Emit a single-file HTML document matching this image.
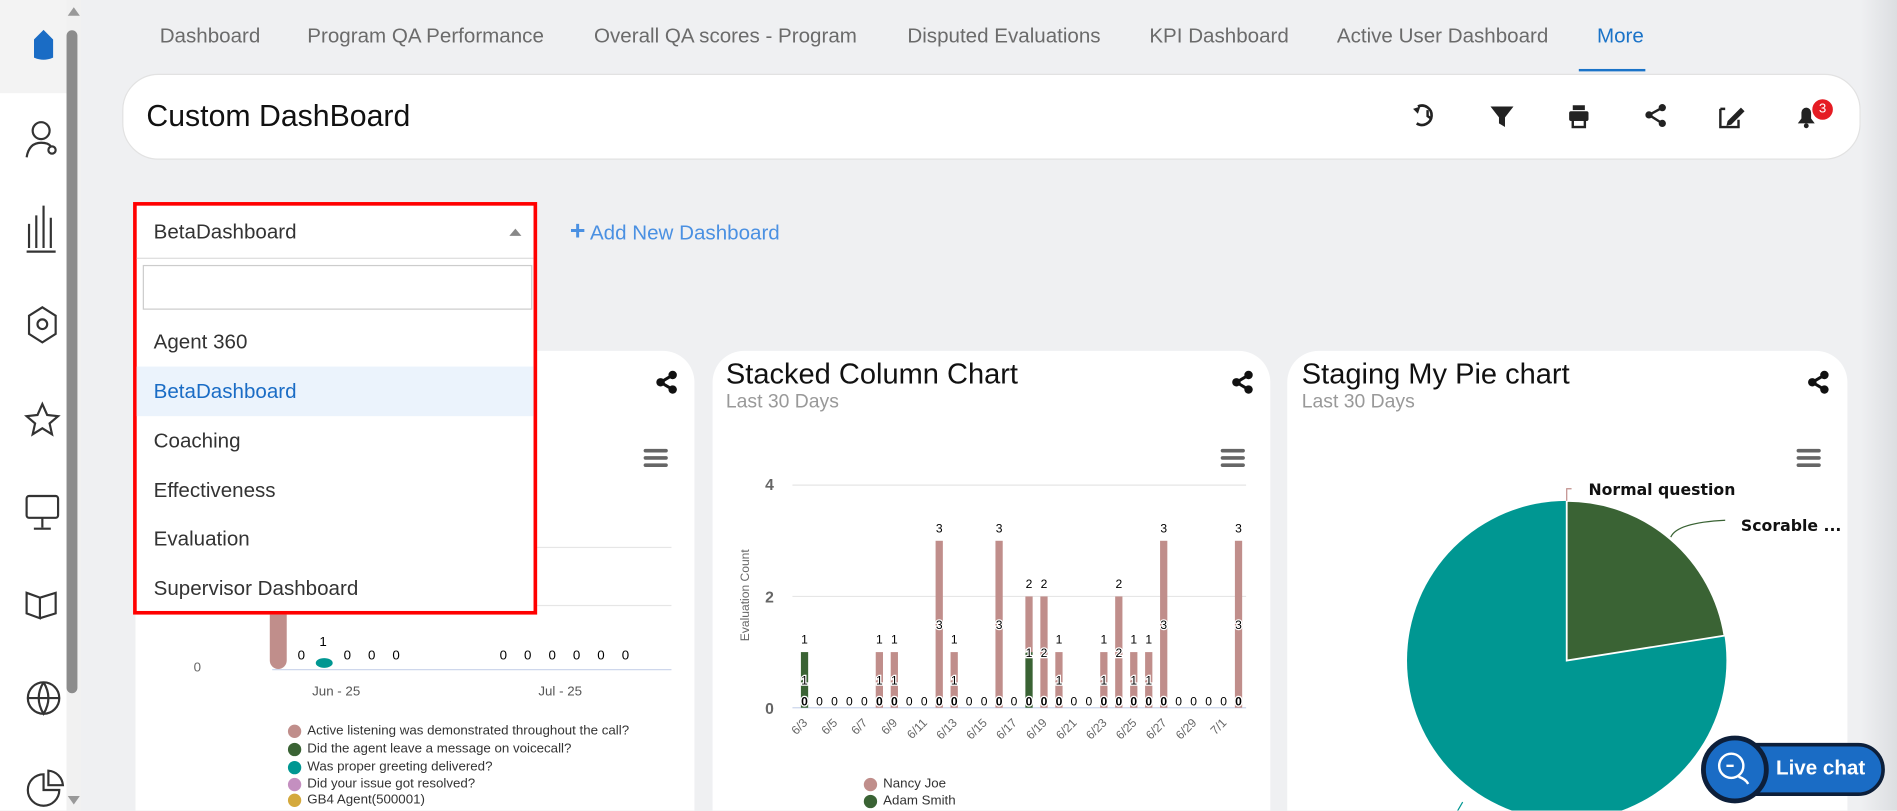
<!DOCTYPE html>
<html><head><meta charset="utf-8"><style>
html,body{margin:0;padding:0;overflow:hidden;background:#eff0f2;width:1897px;height:810px}
#w{position:absolute;left:0;top:0;width:1568px;height:670px;transform:scale(1.20982);transform-origin:0 0;font-family:"Liberation Sans",sans-serif;background:#eff0f2;overflow:hidden}
.a{position:absolute;white-space:nowrap}
.tab{position:absolute;top:20px;font-size:17px;color:#6b6b6b}
.card{position:absolute;background:#fff;border-radius:26px 26px 0 0}
.ham{position:absolute;width:20px;height:3px;background:#666;box-shadow:0 6px 0 #666,0 12px 0 #666;border-radius:2px}
.item{position:absolute;left:3px;width:328px;height:41px;font-size:17px;color:#333;line-height:41px;padding-left:14px;box-sizing:border-box}
.lg{position:absolute;font-size:11px;color:#333}
.lg i{position:absolute;left:-16px;top:1px;width:11px;height:11px;border-radius:50%}
</style></head><body><div id="w">
<div class="a" style="left:0;top:0;width:55px;height:670px;background:#fff"></div>
<div class="a" style="left:0;top:0;width:55px;height:77px;background:#f3f3f3"></div>
<div class="a" style="left:55px;top:0;width:12px;height:670px;background:#f1f1f1"></div>
<div class="a" style="left:55px;top:25px;width:9px;height:548px;background:#8c8c8c;border-radius:5px"></div>
<div class="a" style="left:56px;top:6px;width:0;height:0;border-left:5px solid transparent;border-right:5px solid transparent;border-bottom:7px solid #999"></div>
<div class="a" style="left:56px;top:658px;width:0;height:0;border-left:5px solid transparent;border-right:5px solid transparent;border-top:7px solid #999"></div>
<svg class="a" style="left:0;top:0" width="55" height="670" fill="none" stroke="#333" stroke-width="1.8">
<path d="M29 33 L36 26 L43 33 L43 47 Q36 50 29 47 Z" fill="#1a6cc5" stroke="#1a6cc5"/>
<circle cx="34" cy="108" r="7"/><path d="M22 130 Q24 118 34 118 Q40 118 42 121"/><circle cx="43" cy="124" r="3"/>
<path d="M24 205 V185 M30 205 V178 M36 205 V170 M42 205 V180 M22 208 H46"/>
<path d="M35 254 L46 261 V276 L35 283 L24 276 V261 Z"/><circle cx="35" cy="268" r="4"/>
<path d="M35 334 L39 343 L48 344 L41 350 L43 359 L35 354 L27 359 L29 350 L22 344 L31 343 Z"/>
<rect x="22" y="410" width="26" height="18" rx="2"/><path d="M35 428 V436 M28 437 H42"/>
<path d="M22 490 L33 494 V511 L22 507 Z M33 494 L46 490 V507 L33 511"/>
<circle cx="36" cy="577" r="13"/><path d="M23 577 H49 M36 564 Q28 577 36 590 Q44 577 36 564"/>
<path d="M36 640 A13 13 0 1 0 49 653 L36 653 Z"/><path d="M40 637 A13 13 0 0 1 52 649 L40 649 Z"/>
</svg>
<div class="tab" style="left:132px">Dashboard</div>
<div class="tab" style="left:254px">Program QA Performance</div>
<div class="tab" style="left:491px">Overall QA scores - Program</div>
<div class="tab" style="left:750px">Disputed Evaluations</div>
<div class="tab" style="left:950px">KPI Dashboard</div>
<div class="tab" style="left:1105px">Active User Dashboard</div>
<div class="tab" style="left:1320px;color:#1a73c8">More</div>
<div class="a" style="left:1305px;top:57px;width:55px;height:2px;background:#1a73c8"></div>
<div class="a" style="left:101px;top:61px;width:1435px;height:69px;border-radius:30px;border:1px solid #e2e2e2;background:#fff"></div>
<div class="a" style="left:121px;top:82px;font-size:25px;color:#111">Custom DashBoard</div>
<svg class="a" style="left:1160px;top:80px" width="360" height="32" fill="#222" stroke="#222">
<path d="M12 8 A8 8 0 1 1 11 22" fill="none" stroke-width="2.2"/><path d="M8 10 L12 14 L14 8 Z" stroke="none"/><path d="M20 11 V16 L23 18" fill="none" stroke-width="2"/>
<path d="M72 8 H91 L84 17 V25 L79 22 V17 Z" stroke="none"/>
<rect x="137" y="12" width="16" height="8" rx="1.5" stroke="none"/><rect x="140" y="7" width="10" height="4" stroke="none"/><rect x="140" y="19" width="10" height="6" fill="#fff" stroke-width="2"/>
<circle cx="214" cy="9" r="3" stroke="none"/><circle cx="203" cy="15" r="3" stroke="none"/><circle cx="214" cy="22" r="3" stroke="none"/><path d="M214 9 L203 15 L214 22" fill="none" stroke-width="2"/>
<path d="M262 10 H266 M262 10 V25 H277 V19" fill="none" stroke-width="2"/><path d="M268 20 L279 9 L282 12 L271 23 L267 24 Z" stroke="none"/>
<path d="M326 22 H340 L337 18 V13 A4 4 0 0 0 329 13 V18 Z" stroke="none"/><circle cx="333" cy="24" r="2" stroke="none"/>
</svg>
<div class="a" style="left:1498px;top:82px;width:17px;height:17px;border-radius:50%;background:#e51c23;color:#fff;font-size:11px;text-align:center;line-height:17px">3</div>
<div class="a" style="left:471px;top:182px;font-size:17px;color:#4a90e2"><b style="font-size:22px;line-height:17px">+</b> Add New Dashboard</div>
<div class="card" style="left:112px;top:290px;width:462px;height:380px"></div>
<svg class="a" style="left:542px;top:306px" width="20" height="20" fill="#111"><circle cx="14" cy="4" r="3.5"/><circle cx="4" cy="10" r="3.5"/><circle cx="14" cy="16" r="3.5"/><path d="M14 4 L4 10 L14 16" stroke="#111" stroke-width="2.5" fill="none"/></svg>
<div class="ham" style="left:532px;top:371px"></div>
<div class="a" style="left:178px;top:452px;width:377px;height:1px;background:#e6e6e6"></div>
<div class="a" style="left:178px;top:500px;width:377px;height:1px;background:#e6e6e6"></div>
<div class="a" style="left:225px;top:553px;width:330px;height:1px;background:#ccd6eb"></div>
<div class="a" style="left:160px;top:546px;font-size:11px;color:#666">0</div>
<div class="a" style="left:223px;top:505px;width:14px;height:48px;background:#c08e8b;border-radius:0 0 7px 7px"></div>
<div class="a" style="left:261px;top:544px;width:14px;height:8px;background:#009792;border-radius:50%"></div>
<div class="a" style="left:264px;top:525px;font-size:11px">1</div>
<div class="a" style="left:246px;top:536px;font-size:11px">0</div>
<div class="a" style="left:284px;top:536px;font-size:11px;word-spacing:11px">0 0 0</div>
<div class="a" style="left:413px;top:536px;font-size:11px;word-spacing:11px">0 0 0 0 0 0</div>
<div class="a" style="left:258px;top:566px;font-size:11px;color:#555">Jun - 25</div>
<div class="a" style="left:445px;top:566px;font-size:11px;color:#555">Jul - 25</div>
<div class="lg" style="left:254px;top:598px"><i style="background:#c08e8b"></i>Active listening was demonstrated throughout the call?</div>
<div class="lg" style="left:254px;top:613px"><i style="background:#3a6334"></i>Did the agent leave a message on voicecall?</div>
<div class="lg" style="left:254px;top:628px"><i style="background:#009792"></i>Was proper greeting delivered?</div>
<div class="lg" style="left:254px;top:642px"><i style="background:#c48fc0"></i>Did your issue got resolved?</div>
<div class="lg" style="left:254px;top:655px"><i style="background:#d4a93d"></i>GB4 Agent(500001)</div>
<div class="a" style="left:110px;top:167px;width:334px;height:341px;background:#fff;border:3px solid #f00;box-sizing:border-box"></div>
<div class="a" style="left:127px;top:182px;font-size:17px;color:#333">BetaDashboard</div>
<div class="a" style="left:421px;top:189px;border-left:5px solid transparent;border-right:5px solid transparent;border-bottom:6px solid #888"></div>
<div class="a" style="left:113px;top:213px;width:328px;height:1px;background:#ddd"></div>
<div class="a" style="left:118px;top:219px;width:322px;height:37px;border:1px solid #ccc;box-sizing:border-box"></div>
<div class="item" style="top:262px;left:113px">Agent 360</div>
<div class="item" style="top:303px;left:113px;background:#ebf3fc;color:#1a6cc5">BetaDashboard</div>
<div class="item" style="top:344px;left:113px">Coaching</div>
<div class="item" style="top:385px;left:113px">Effectiveness</div>
<div class="item" style="top:425px;left:113px">Evaluation</div>
<div class="item" style="top:466px;left:113px">Supervisor Dashboard</div>
<div class="card" style="left:589px;top:290px;width:461px;height:380px"></div>
<div class="a" style="left:600px;top:296px;font-size:24px;color:#111">Stacked Column Chart</div>
<div class="a" style="left:600px;top:324px;font-size:16px;color:#999">Last 30 Days</div>
<svg class="a" style="left:1018px;top:306px" width="20" height="20" fill="#111"><circle cx="14" cy="4" r="3.5"/><circle cx="4" cy="10" r="3.5"/><circle cx="14" cy="16" r="3.5"/><path d="M14 4 L4 10 L14 16" stroke="#111" stroke-width="2.5" fill="none"/></svg>
<div class="ham" style="left:1009px;top:371px"></div>
<svg class="a" style="left:589px;top:380px" width="461" height="290" font-family="Liberation Sans, sans-serif">
<line x1="66" y1="21" x2="441" y2="21" stroke="#e6e6e6"/>
<line x1="66" y1="113" x2="441" y2="113" stroke="#e6e6e6"/>
<line x1="66" y1="205" x2="441" y2="205" stroke="#ccd6eb"/>
<text x="47" y="25" font-size="13" font-weight="bold" fill="#666" text-anchor="middle">4</text>
<text x="47" y="118" font-size="13" font-weight="bold" fill="#666" text-anchor="middle">2</text>
<text x="47" y="210" font-size="13" font-weight="bold" fill="#666" text-anchor="middle">0</text>
<text transform="translate(30,112) rotate(-90)" font-size="10" fill="#666" text-anchor="middle">Evaluation Count</text>
<g id="bars"></g>
</svg>
<div class="lg" style="left:730px;top:642px"><i style="background:#c08e8b"></i>Nancy Joe</div>
<div class="lg" style="left:730px;top:656px"><i style="background:#3a6334"></i>Adam Smith</div>
<div class="card" style="left:1064px;top:290px;width:463px;height:380px"></div>
<div class="a" style="left:1076px;top:296px;font-size:24px;color:#111">Staging My Pie chart</div>
<div class="a" style="left:1076px;top:324px;font-size:16px;color:#999">Last 30 Days</div>
<svg class="a" style="left:1494px;top:306px" width="20" height="20" fill="#111"><circle cx="14" cy="4" r="3.5"/><circle cx="4" cy="10" r="3.5"/><circle cx="14" cy="16" r="3.5"/><path d="M14 4 L4 10 L14 16" stroke="#111" stroke-width="2.5" fill="none"/></svg>
<div class="ham" style="left:1485px;top:371px"></div>
<svg class="a" style="left:1064px;top:380px" width="463" height="290" font-family="DejaVu Sans, sans-serif">
<circle cx="231" cy="166" r="132" fill="#009792"/>
<path d="M231 166 L231 34 A132 132 0 0 1 361.4 145.4 Z" fill="#3a6334" stroke="#fff" stroke-width="1.5"/>
<path d="M231 34 V24 H235" stroke="#c08e8b" fill="none"/>
<path d="M317 64 Q322 52 362 50" stroke="#3a6334" fill="none"/>
<path d="M145 283 L138 295" stroke="#009792" fill="none"/>
<text x="249" y="29" font-size="13" font-weight="bold" fill="#111">Normal question</text>
<text x="375" y="59" font-size="13" font-weight="bold" fill="#111">Scorable ...</text>
</svg>
<div class="a" style="left:1538px;top:0;width:30px;height:670px;background:linear-gradient(90deg,#eff0f2,#dcdee1)"></div>
<div class="a" style="left:1425px;top:614px;width:133px;height:44px;background:#1a6cc5;border:3px solid #0d1f3a;border-radius:24px;box-sizing:border-box"></div>
<div class="a" style="left:1406px;top:608px;width:56px;height:56px;background:#1a6cc5;border:4px solid #0d1f3a;border-radius:50%;box-sizing:border-box"></div>
<svg class="a" style="left:1417px;top:620px" width="34" height="32" fill="none" stroke="#fff" stroke-width="2"><circle cx="14" cy="13" r="10"/><path d="M10 13 H16"/><path d="M20 22 Q26 24 28 28"/></svg>
<div class="a" style="left:1468px;top:625px;font-size:17px;font-weight:bold;color:#fff">Live chat</div>
</div>
<script>
var g=document.getElementById('bars'),h='';
var pink={5:1,6:1,9:3,10:1,13:3,15:1,16:2,17:1,20:1,21:2,22:1,23:1,24:3,29:3},green={0:1,15:1};
var dates=['6/3','6/5','6/7','6/9','6/11','6/13','6/15','6/17','6/19','6/21','6/23','6/25','6/27','6/29','7/1'];
for(var i=0;i<30;i++){var x=76+i*12.37,p=pink[i]||0,q=green[i]||0,y=205;
if(q){h+='<rect x="'+(x-3)+'" y="'+(y-q*46)+'" width="6" height="'+(q*46)+'" fill="#3a6334"/>';}
if(p){h+='<rect x="'+(x-3)+'" y="'+(y-q*46-p*46)+'" width="6" height="'+(p*46)+'" fill="#c08e8b"/>';}
var t=p+q;
if(t){h+='<text x="'+x+'" y="'+(y-t*46-7)+'" font-size="10" text-anchor="middle">'+t+'</text>';
h+='<text x="'+x+'" y="'+(y-t*23+4)+'" font-size="10" text-anchor="middle" stroke="#fff" stroke-width="2" paint-order="stroke">'+(p||q)+'</text>';}
h+='<text x="'+x+'" y="'+(y-2)+'" font-size="10" text-anchor="middle"'+(t?' stroke="#fff" stroke-width="2" paint-order="stroke" font-weight="bold"':'')+'>0</text>';
if(i%2==0){h+='<text transform="translate('+(x+3)+',218) rotate(-45)" font-size="10" fill="#666" text-anchor="end">'+dates[i/2]+'</text>';}}
g.innerHTML=h;
</script>
</body></html>
